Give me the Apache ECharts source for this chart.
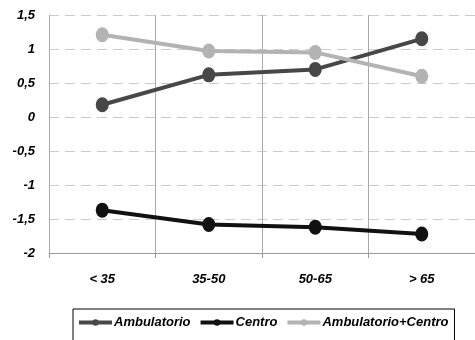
<!DOCTYPE html>
<html>
<head>
<meta charset="utf-8">
<script src="https://cdn.jsdelivr.net/npm/echarts@6/dist/echarts.min.js"></script>
<style>
  html, body { margin: 0; padding: 0; background: #fff; }
  #chart { width: 475px; height: 340px; }
</style>
</head>
<body>
<div id="chart"></div>
<script>
var categories = ['< 35', '35-50', '50-65', '> 65'];
var ambulatorio = [0.18, 0.62, 0.70, 1.15];
var centro = [-1.37, -1.58, -1.62, -1.72];
var ambCentro = [1.21, 0.97, 0.95, 0.60];

var font = 'Liberation Sans, Arial, sans-serif';

function makeSeries(name, data, color) {
  return {
    name: name,
    type: 'line',
    data: data,
    symbol: 'circle',
    symbolSize: [13, 15],
    lineStyle: { width: 4, color: color },
    itemStyle: { color: color },
    emphasis: { disabled: true }
  };
}

var chart = echarts.init(document.getElementById('chart'));
chart.setOption({
  animation: false,
  grid: { left: 49, right: -7, top: 15, bottom: 87 },
  legend: {
    data: ['Ambulatorio', 'Centro', 'Ambulatorio+Centro'],
    left: 73,
    top: 309,
    width: 385,
    itemWidth: 33,
    itemHeight: 8,
    itemGap: 8,
    padding: [7, 6, 12, 4],
    borderColor: '#000',
    borderWidth: 1,
    lineStyle: { width: 4 },
    textStyle: { fontFamily: font, fontSize: 13, fontWeight: 'bold', fontStyle: 'italic', color: '#000', padding: [0, 0, 0, -3] }
  },
  xAxis: {
    type: 'category',
    data: categories,
    boundaryGap: true,
    axisLine: { onZero: false, lineStyle: { color: '#999', width: 1 } },
    axisTick: { show: true, length: 5, lineStyle: { color: '#999' } },
    splitLine: { show: true, lineStyle: { color: '#aaa', width: 1 } },
    axisLabel: { margin: 20, fontFamily: font, fontSize: 13, fontWeight: 'bold', fontStyle: 'italic', color: '#000' }
  },
  yAxis: {
    type: 'value',
    min: -2,
    max: 1.5,
    interval: 0.5,
    axisLine: { show: false },
    axisTick: { show: false },
    splitLine: { lineStyle: { color: '#ccc', type: [10, 6], width: 1 } },
    axisLabel: {
      margin: 14,
      fontFamily: font, fontSize: 13, fontWeight: 'bold', fontStyle: 'italic', color: '#000',
      formatter: function (v) { return String(v).replace('.', ','); }
    }
  },
  series: [
    makeSeries('Ambulatorio', ambulatorio, '#474747'),
    makeSeries('Centro', centro, '#111111'),
    makeSeries('Ambulatorio+Centro', ambCentro, '#b3b3b3')
  ]
});
</script>
</body>
</html>
